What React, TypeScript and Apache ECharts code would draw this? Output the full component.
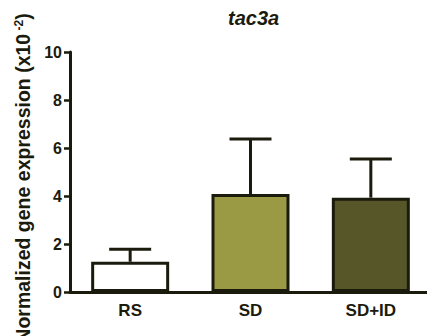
import React, { useEffect, useRef } from "react";
import * as echarts from "echarts";

const categories = ["RS", "SD", "SD+ID"];
const means = [1.26, 4.08, 3.93];
const errors = [0.52, 2.3, 1.61];
const barColors = ["#ffffff", "#9a9a44", "#575628"];
const yTicks = [0, 2, 4, 6, 8, 10];

const INK = "#1b1b0d";
const FONT = "'Liberation Sans', Arial, sans-serif";

export default function App() {
  const ref = useRef<HTMLDivElement>(null);
  useEffect(() => {
    document.body.style.margin = "0";
    if (!ref.current) return;
    const chart = echarts.init(ref.current, undefined, { renderer: "svg" });
    chart.setOption({
      animation: false,
      backgroundColor: "#ffffff",
      title: {
        text: "tac3a",
        left: 223,
        top: 3,
        textStyle: { fontFamily: FONT, fontStyle: "italic", fontWeight: "bold", fontSize: 20, color: INK },
      },
      grid: { left: 70, right: -4, top: 52, bottom: 44, containLabel: false, outerBoundsMode: "none" },
      xAxis: {
        type: "category",
        data: categories,
        axisLine: { lineStyle: { color: INK, width: 3 } },
        axisTick: { show: false },
        axisLabel: { fontFamily: FONT, fontWeight: "bold", fontSize: 17, color: INK, margin: 10 },
      },
      yAxis: {
        type: "value",
        min: yTicks[0],
        max: yTicks[yTicks.length - 1],
        interval: 2,
        splitLine: { show: false },
        axisLine: { show: true, lineStyle: { color: INK, width: 3 } },
        axisTick: { show: true, length: 6, lineStyle: { color: INK, width: 2.5 } },
        axisLabel: { fontFamily: FONT, fontWeight: "bold", fontSize: 16, color: INK, margin: 8 },
        name: "Normalized gene expression (x10{sup| -2})",
        nameLocation: "middle",
        nameGap: 34,
        nameTextStyle: {
          fontFamily: FONT,
          fontWeight: "bold",
          fontSize: 19.5,
          color: INK,
          padding: [0, 12, 0, 0],
          rich: {
            sup: { fontFamily: FONT, fontWeight: "bold", fontSize: 12, color: INK, verticalAlign: "top", padding: [0, 0, 9, 0] },
          },
        },
      },
      series: [
        {
          type: "bar",
          barWidth: 78,
          data: means.map((v, i) => ({
            value: v,
            itemStyle: { color: barColors[i], borderColor: INK, borderWidth: 3 },
          })),
          z: 2,
        },
        {
          type: "custom",
          z: 3,
          data: means.map((v, i) => [i, v, v + errors[i]]),
          renderItem: (params: any, api: any) => {
            const i = api.value(0);
            const lo = api.coord([i, api.value(1)]);
            const hi = api.coord([i, api.value(2)]);
            const half = 21;
            const style = { stroke: INK, lineWidth: 3, fill: "none" };
            return {
              type: "group",
              children: [
                { type: "line", shape: { x1: lo[0], y1: lo[1], x2: hi[0], y2: hi[1] }, style },
                { type: "line", shape: { x1: hi[0] - half, y1: hi[1], x2: hi[0] + half, y2: hi[1] }, style },
              ],
            };
          },
        },
      ],
    });
    return () => chart.dispose();
  }, []);
  return <div ref={ref} style={{ width: 427, height: 336 }} />;
}
